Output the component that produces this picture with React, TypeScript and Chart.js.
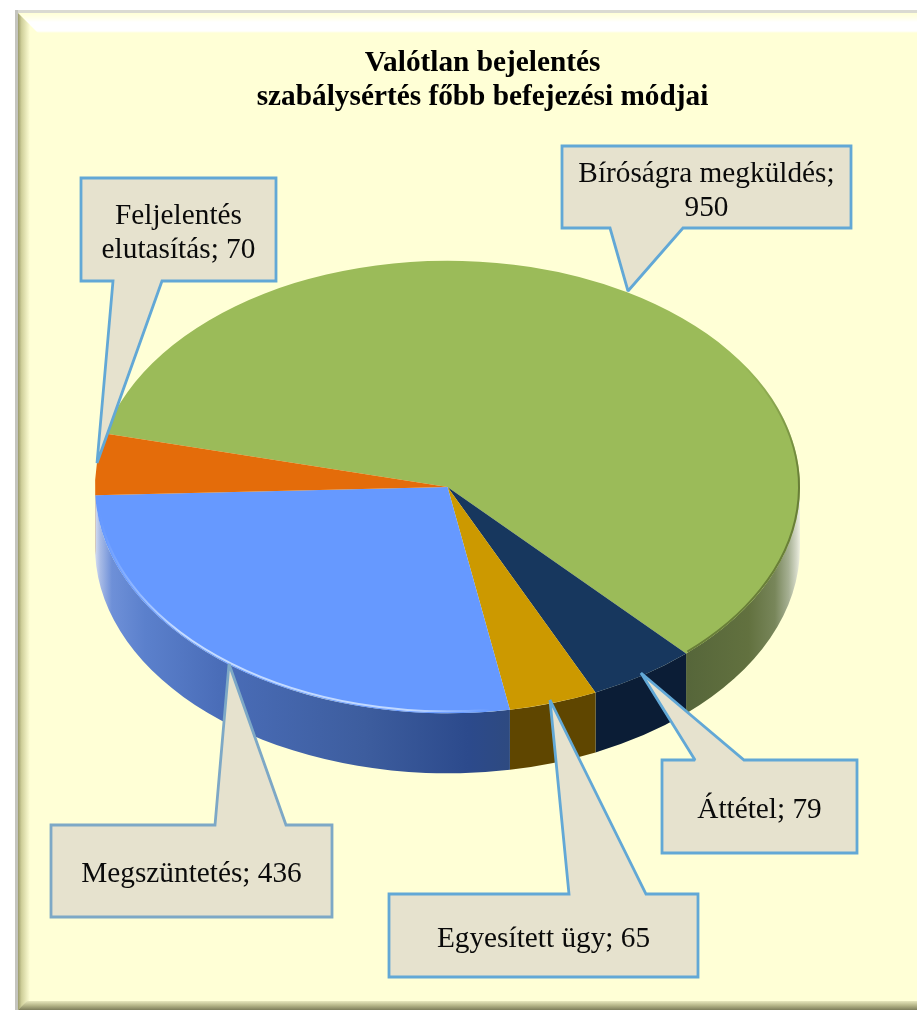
import React, { useEffect, useRef } from "react";
import { Chart, registerables } from "chart.js";

Chart.register(...registerables);

const titleLines = ["Valótlan bejelentés", "szabálysértés főbb befejezési módjai"];
const categories = ["Bíróságra megküldés", "Áttétel", "Egyesített ügy", "Megszüntetés", "Feljelentés elutasítás"];
const values = [950, 79, 65, 436, 70];
const sliceColors = ["#9BBB59", "#17375E", "#CC9900", "#6699FF", "#E46C0A"];

const W = 917;
const H = 1010;
const PIE_CY = 487;
const SQUASH = 0.642;
const DEPTH = 60;
const SERIF = "'Liberation Serif', 'Times New Roman', serif";

// side-wall colours, per slice: [offset, colour] along the slice's horizontal span
const sideStops: [number, string][][] = [
  [[0, "#56663A"], [0.55, "#62713F"], [0.78, "#78865A"], [0.9, "#A6B093"], [0.97, "#D5D9C8"], [1, "#EEF0E0"]],
  [[0, "#0B1D36"], [1, "#0B1D36"]],
  [[0, "#5F4600"], [1, "#5F4600"]],
  [[0, "#D5DDF0"], [0.012, "#A8BBE6"], [0.04, "#6E90D8"], [0.12, "#5B80CC"], [0.3, "#4A6DB8"], [0.65, "#3D5D9E"], [0.9, "#2C4A8C"], [1, "#2E4A80"]],
  [[0, "#B9762F"], [1, "#B9762F"]],
];

// callout geometry: box, tail (base, tip, base), first-line text baseline
const callouts = [
  { i: 0, x0: 562, y0: 146, x1: 851, y1: 228, tail: [[610, 228], [628, 291], [683, 228]], lines: (s: string, v: number) => [s + ";", String(v)], ty: 182, border: "#62A8D6" },
  { i: 1, x0: 662, y0: 760, x1: 857, y1: 853, tail: [[695, 760], [641, 673], [744, 760]], lines: (s: string, v: number) => [`${s}; ${v}`], ty: 818, border: "#62A8D6" },
  { i: 2, x0: 389, y0: 894, x1: 698, y1: 977, tail: [[569, 894], [550, 700], [646, 894]], lines: (s: string, v: number) => [`${s}; ${v}`], ty: 947, border: "#62A8D6" },
  { i: 3, x0: 51, y0: 825, x1: 332, y1: 917, tail: [[215, 825], [229, 664], [286, 825]], lines: (s: string, v: number) => [`${s}; ${v}`], ty: 882, border: "#7DA8C6" },
  { i: 4, x0: 81, y0: 178, x1: 276, y1: 281, tail: [[113, 281], [97, 463], [162, 281]], lines: (s: string, v: number) => { const [a, b] = s.split(" "); return [a, `${b}; ${v}`]; }, ty: 224, border: "#62A8D6" },
];

const framePlugin = {
  id: "frame",
  afterLayout(chart: any) {
    const t = chart.titleBlock;
    if (t) {
      t.left += 35;
      t.right += 35;
    }
  },
  beforeDraw(chart: any) {
    const c: CanvasRenderingContext2D = chart.ctx;
    c.save();
    c.fillStyle = "#FFFFFF";
    c.fillRect(0, 0, W, H);
    c.fillStyle = "#DADAD2";
    c.fillRect(15, 10, W - 15, 3);
    c.fillStyle = "#C4C4BE";
    c.fillRect(15, 10, 3, H - 10);
    c.fillStyle = "#FFFFD6";
    c.fillRect(18, 13, W - 18, H - 13);
    // top bevel
    let g = c.createLinearGradient(0, 13, 0, 33);
    g.addColorStop(0, "#FFFFD6");
    g.addColorStop(0.3, "#FFFFEE");
    g.addColorStop(0.45, "#FFFFFF");
    g.addColorStop(0.9, "#FFFFFF");
    g.addColorStop(1, "#FFFFD6");
    c.fillStyle = g;
    c.beginPath();
    c.moveTo(18, 13);
    c.lineTo(W, 13);
    c.lineTo(W, 33);
    c.lineTo(38, 33);
    c.closePath();
    c.fill();
    // left bevel
    g = c.createLinearGradient(18, 0, 30, 0);
    g.addColorStop(0, "#9C9C6C");
    g.addColorStop(0.3, "#CFCF9A");
    g.addColorStop(1, "#FFFFD6");
    c.fillStyle = g;
    c.beginPath();
    c.moveTo(18, 13);
    c.lineTo(30, 25);
    c.lineTo(30, 1000);
    c.lineTo(18, H);
    c.closePath();
    c.fill();
    // bottom bevel
    g = c.createLinearGradient(0, 1001, 0, H);
    g.addColorStop(0, "#E6E6BC");
    g.addColorStop(0.5, "#B5B588");
    g.addColorStop(1, "#7E7E5C");
    c.fillStyle = g;
    c.beginPath();
    c.moveTo(18, H);
    c.lineTo(27, 1001);
    c.lineTo(W, 1001);
    c.lineTo(W, H);
    c.closePath();
    c.fill();
    c.restore();
  },
};

const pie3dPlugin = {
  id: "pie3d",
  beforeDatasetDraw(chart: any, args: any) {
    const c: CanvasRenderingContext2D = chart.ctx;
    const arcs = args.meta.data;
    c.save();
    const TAU = 2 * Math.PI;
    arcs.forEach((a: any, i: number) => {
      const p = a.getProps(["x", "startAngle", "endAngle", "outerRadius"], true);
      const rx = p.outerRadius;
      const ry = rx * SQUASH;
      const s = ((p.startAngle % TAU) + TAU) % TAU;
      const e = s + (p.endAngle - p.startAngle);
      // the front of the wall is the part of the rim with angle in 0..PI (mod 2PI)
      [0, TAU].forEach((base) => {
        const lo = Math.max(s, base);
        const hi = Math.min(e, base + Math.PI);
        if (hi <= lo) return;
        const xa = p.x + rx * Math.cos(hi);
        const xb = p.x + rx * Math.cos(lo);
        const g = c.createLinearGradient(xa, 0, xb, 0);
        sideStops[i].forEach(([o, col]) => g.addColorStop(o, col));
        c.fillStyle = g;
        c.beginPath();
        c.ellipse(p.x, PIE_CY, rx, ry, 0, lo, hi);
        c.ellipse(p.x, PIE_CY + DEPTH, rx, ry, 0, hi, lo, true);
        c.closePath();
        c.fill();
      });
    });
    const first = arcs[0].getProps(["y"], true);
    c.translate(0, PIE_CY);
    c.scale(1, SQUASH);
    c.translate(0, -first.y);
  },
  afterDatasetDraw(chart: any, args: any) {
    const c: CanvasRenderingContext2D = chart.ctx;
    c.restore();
    const a = args.meta.data[0].getProps(["x", "outerRadius"], true);
    const rx = a.outerRadius;
    const ry = rx * SQUASH;
    c.save();
    // dark rim on the green face
    let g = c.createLinearGradient(0, 360, 0, 480);
    g.addColorStop(0, "rgba(96,116,50,0)");
    g.addColorStop(1, "rgba(96,116,50,0.85)");
    c.lineWidth = 2;
    c.strokeStyle = g;
    c.beginPath();
    c.ellipse(a.x, PIE_CY, rx - 1, ry - 1, 0, -0.62, 0.82);
    c.stroke();
    // light rim on the blue face
    g = c.createLinearGradient(100, 0, 490, 0);
    g.addColorStop(0, "rgba(215,232,255,0)");
    g.addColorStop(0.2, "rgba(215,232,255,0.85)");
    g.addColorStop(0.8, "rgba(215,232,255,0.8)");
    g.addColorStop(1, "rgba(215,232,255,0)");
    c.lineWidth = 2;
    c.strokeStyle = g;
    c.beginPath();
    c.ellipse(a.x, PIE_CY, rx - 2, ry - 2, 0, 1.45, 3.1);
    c.stroke();
    c.restore();
  },
  afterDraw(chart: any) {
    const c: CanvasRenderingContext2D = chart.ctx;
    c.save();
    callouts.forEach((k) => {
      c.beginPath();
      c.moveTo(k.x0, k.y0);
      if (k.tail[0][1] === k.y0) {
        c.lineTo(k.tail[0][0], k.y0);
        c.lineTo(k.tail[1][0], k.tail[1][1]);
        c.lineTo(k.tail[2][0], k.y0);
        c.lineTo(k.x1, k.y0);
        c.lineTo(k.x1, k.y1);
        c.lineTo(k.x0, k.y1);
      } else {
        c.lineTo(k.x1, k.y0);
        c.lineTo(k.x1, k.y1);
        c.lineTo(k.tail[2][0], k.y1);
        c.lineTo(k.tail[1][0], k.tail[1][1]);
        c.lineTo(k.tail[0][0], k.y1);
        c.lineTo(k.x0, k.y1);
      }
      c.closePath();
      c.fillStyle = "#E6E2CE";
      c.fill();
      c.strokeStyle = k.border;
      c.lineWidth = 2.8;
      c.lineJoin = "miter";
      c.miterLimit = 2;
      c.stroke();
      c.fillStyle = "#0A0A0A";
      c.font = `29.3px ${SERIF}`;
      c.textAlign = "center";
      c.textBaseline = "alphabetic";
      const cx = (k.x0 + k.x1) / 2;
      k.lines(categories[k.i], values[k.i]).forEach((ln, n) => c.fillText(ln, cx, k.ty + n * 34));
    });
    c.restore();
  },
};

export default function App() {
  const ref = useRef<HTMLCanvasElement | null>(null);
  useEffect(() => {
    if (!ref.current) return;
    const chart = new Chart(ref.current, {
      type: "pie",
      data: {
        labels: categories,
        datasets: [
          {
            data: values,
            backgroundColor: sliceColors,
            borderWidth: 0,
            clip: false as any,
          },
        ],
      },
      options: {
        responsive: false,
        animation: false,
        rotation: -76.35,
        layout: { padding: { left: 95, right: 117, top: 0, bottom: 0 } },
        plugins: {
          legend: { display: false },
          tooltip: { enabled: false },
          title: {
            display: true,
            text: titleLines,
            color: "#000000",
            font: { family: SERIF, size: 29.3, weight: "bold", lineHeight: 1.18 },
            padding: { top: 46, bottom: 10 },
          },
        },
      },
      plugins: [framePlugin, pie3dPlugin],
    });
    return () => chart.destroy();
  }, []);
  return (
    <div style={{ position: "absolute", left: 0, top: 0, width: W, height: H, overflow: "hidden" }}>
      <canvas ref={ref} width={W} height={H} style={{ display: "block" }} />
    </div>
  );
}
